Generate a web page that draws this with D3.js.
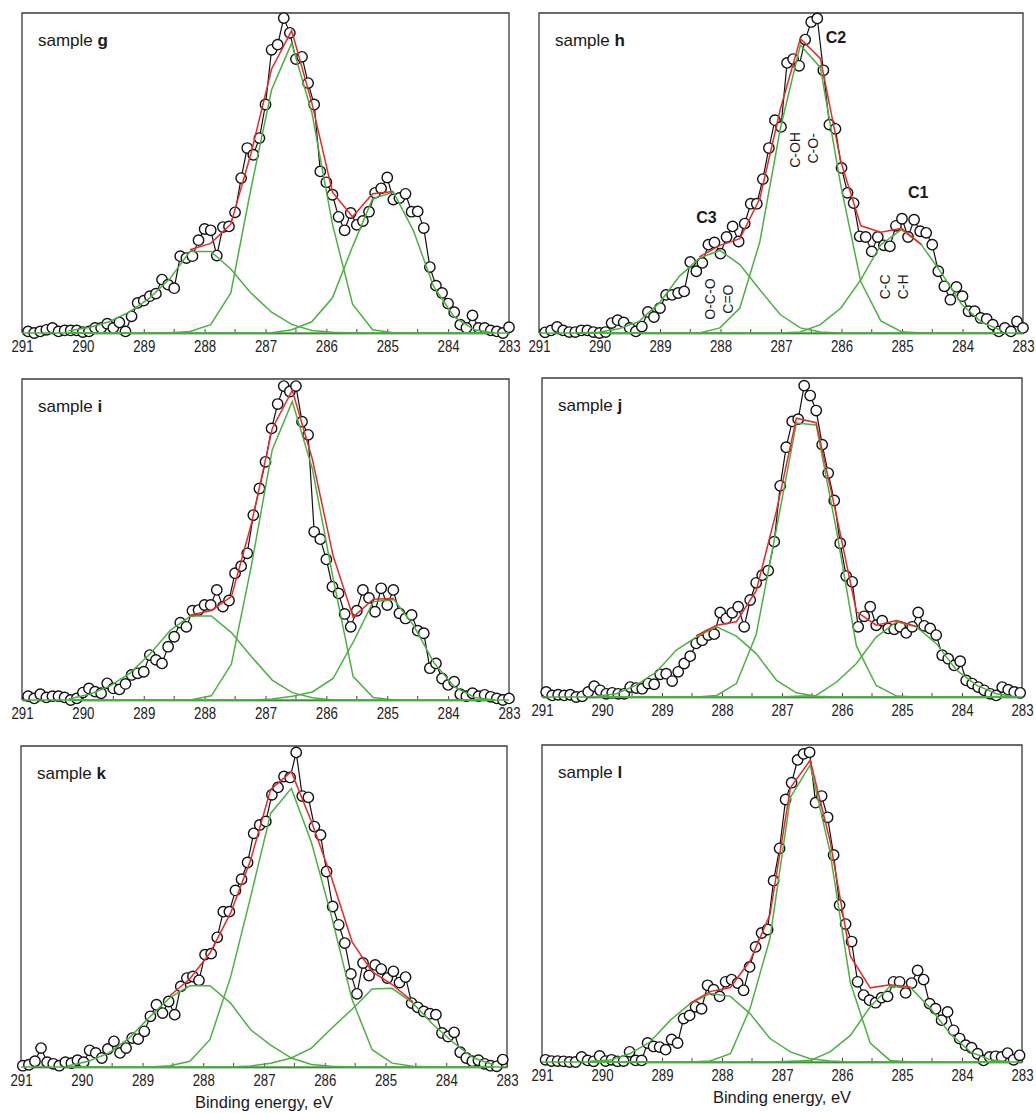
<!DOCTYPE html>
<html>
<head>
<meta charset="utf-8">
<script src="https://cdn.jsdelivr.net/npm/d3@7"></script>
<style>
    body { margin: 0; background: #fff; }
    text { font-family: "Liberation Sans", Arial, sans-serif; }
</style>
</head>
<body>
<div id="vis"></div>
<script>
const l = console.log

// ---- data (intensity in % of panel height) ----
const sampleNames = ["g", "h", "i", "j", "k", "l"];
const tickValues = [291, 290, 289, 288, 287, 286, 285, 284, 283];
const minorTicks = [290.5, 289.5, 288.5, 287.5, 286.5, 285.5, 284.5, 283.5];

// first binding energy of each scan, eV; scan step 0.1 eV
const scanStart = [290.9, 290.9, 290.9, 290.93, 290.97, 290.94];
const scanStep = 0.1;

const gScan = [0.5, 0, 0.5, 1, 1.6, 0.5, 0.8, 0.8, 0.8, 0.3,
    0.5, 1.6, 1.6, 2.9, 1.6, 3.3, 0.5, 5.2, 9.4, 10.1,
    11.5, 12.3, 16.7, 15.1, 14.0, 24.0, 23.4, 24.0, 29.0, 32.5,
    32.1, 24.2, 33.1, 33.3, 37.7, 48.4, 57.8, 55.7, 60.9, 71.4,
    88.5, 90.1, 98.4, 93.8, 85.6, 86.3, 78.1, 71.4, 50.5, 47.1,
    43.2, 36.3, 32.1, 37.5, 33.8, 35.0, 37.9, 43.8, 45.2, 48.6,
    41.7, 42.2, 43.5, 37.9, 38.0, 32.8, 20.6, 14.8, 12.5, 9.2,
    6.5, 2.6, 1.6, 5.5, 1.6, 1.6, 0.8, 0.5, 0, 1.8];
const hScan = [0.2, 0.8, 1.9, 0.8, 0.3, 0.3, 0.8, 0.8, 0.3, 0,
    0.3, 3.1, 4.0, 3.3, 1.6, 0.5, 2, 6.6, 5, 7.8,
    11.9, 11.9, 12.5, 13, 22.2, 19.3, 21.9, 27.6, 28.3, 24.8,
    30, 33.3, 28.6, 34.2, 40.4, 40.4, 48.1, 57.8, 66.5, 64.4,
    84.4, 85.6, 83.5, 91.7, 97.2, 98.3, 82.1, 65.1, 63.8, 51.6,
    43.8, 40.6, 30.2, 30, 25.5, 30, 27.4, 27.1, 33.5, 35.7,
    30, 35.4, 31.8, 31.3, 27.6, 19.3, 14.6, 10.4, 14.4, 11.5,
    6.8, 6.8, 4.7, 4.4, 2.6, 0.5, 1.6, 0.5, 3.6, 1.6];
const iScan = [1.2, 0.5, 1.8, 0.8, 1.2, 1.2, 0.8, 0, 0.5, 2.3,
    3.6, 2.6, 2.1, 5.2, 3.6, 3.3, 5, 7.8, 8.3, 8.8,
    14, 12.5, 11.4, 16.6, 19.7, 24.1, 22.8, 27.8, 28, 29.6,
    29.6, 34.3, 29.1, 31, 39.5, 41.7, 45.7, 57.6, 65.9, 74.2,
    84.6, 92.2, 97.8, 96.1, 97.8, 86.7, 82.6, 52.4, 50.1, 43.8,
    35.3, 33.2, 26.8, 22.8, 27.8, 34.3, 31.8, 27.5, 34.8, 29.6,
    34.3, 27, 25.4, 26.5, 21.6, 20.8, 9.9, 11.4, 6.7, 4.7,
    5.7, 1.8, 1.2, 2.1, 1.2, 1.6, 1, 0.5, 0, 0.5];
const jScan = [1.6, 0.5, 0.7, 0.5, 0.7, 0, 0.2, 1.6, 3.4, 2.1,
    1, 1.3, 1, 1, 3.1, 2.8, 2.6, 4.2, 4, 7.1,
    7.3, 5, 7.9, 10.5, 12.8, 16.8, 17.8, 19.4, 19.7, 26.5,
    24.6, 26.4, 28.3, 22, 30.4, 35.8, 38.2, 39.6, 48.7, 66.2,
    78.3, 86.4, 87.1, 97.6, 94.5, 89.8, 79.1, 70.2, 61.6, 48.2,
    37.9, 36.1, 22, 25.3, 28.3, 22.5, 23.9, 21.5, 21.2, 22,
    20.1, 22, 26.5, 22.3, 21.5, 19.4, 13.1, 12, 9.9, 11.2,
    5.2, 4.2, 3.1, 2.1, 1, 0.5, 3.1, 2.3, 1.6, 1.3];
const kScan = [0.4, 0.7, 1.8, 5.9, 1.5, 1, 0.4, 1.5, 1.2, 2.1,
    1.5, 5.2, 4.4, 2.8, 5.6, 8, 4.4, 5.9, 9, 8.7,
    11.1, 15.8, 19.4, 16.8, 20.4, 16.3, 25.1, 27.7, 28.2, 27,
    35, 35.3, 40.4, 48.4, 48.4, 55, 58.5, 63.7, 72.8, 75.4,
    76.5, 84.8, 87.1, 90.5, 90.2, 98, 84.4, 84, 74.9, 72.3,
    60.9, 50, 44.3, 38.6, 29, 22.8, 32.4, 28.5, 31.8, 30.5,
    27.7, 29.8, 26.3, 28, 19.9, 18.6, 17.3, 16.6, 16.3, 10.6,
    9.5, 10.8, 4.6, 2.8, 1.8, 2.1, 1, 0.4, 0.2, 2.3];
const lScan = [0.7, 0.3, 0.3, 0.2, 0, 0, 1.6, 0.5, 0.2, 1.9,
    0.3, 0.7, 0.2, 0.3, 3.2, 0.5, 0.5, 6, 4.9, 4.7,
    3.9, 7.1, 6, 13.7, 14.7, 17.4, 16.8, 24.2, 22.8, 20.7,
    25.3, 26, 24.9, 22.6, 30, 36.3, 40.7, 41.8, 57.2, 67.4,
    82.8, 88.1, 95.3, 97.2, 97.7, 81.8, 83.9, 77.2, 65.3, 49.5,
    43.5, 38, 25.3, 21.1, 19.5, 18.7, 20.3, 20.7, 25.3, 25.3,
    21.8, 24.9, 28.9, 26, 18.4, 16.8, 13.2, 15.8, 10, 7.4,
    5.3, 4.5, 2.6, 0.5, 1.6, 1.8, 1.6, 2.8, 0.7, 2.1];

// fitted curves: energies of the fit points and C3 / C2 / C1 components + envelope
const gGrid = [290.24, 289.9, 289.57, 289.24, 288.9, 288.57, 288.24, 287.9, 287.57, 287.24, 286.9,
    286.57, 286.24, 285.9, 285.57, 285.24, 284.9, 284.57, 284.24, 283.9, 283.57, 283.24];
const gC3 = [0.7, 1.7, 3.5, 6.5, 11, 17, 25.5, 25.5, 20, 12.5, 6.5, 2.7, 0.8, 0.2, 0, 0, 0, 0, 0, 0, 0, 0];
const gC2 = [0, 0, 0, 0, 0, 0.1, 0.5, 2.6, 12.5, 45, 76, 90.6, 69, 34, 9, 1, 0.1, 0, 0, 0, 0, 0];
const gC1 = [0, 0, 0, 0, 0, 0, 0, 0, 0, 0, 0.1, 1, 3.5, 11, 27, 42, 44, 32, 14.6, 5, 1, 0];
const gFit = [null, null, null, null, null, null, 26, 28, 34, 56, 82.5, 94.5, 72, 44, 36.3, 43.5, 44.2,
    null, null, null, null, null];

const hGrid = [290.35, 290.01, 289.68, 289.35, 289.01, 288.68, 288.35, 288.01, 287.68, 287.35, 287.01,
    286.68, 286.35, 286.01, 285.68, 285.35, 285.01, 284.68, 284.35, 284.01, 283.68, 283.35];
const hC3 = [0, 0.2, 1.3, 3.6, 9.4, 17.7, 23.4, 25.8, 21.4, 13.5, 5.7, 1.6, 0.3, 0, 0, 0, 0, 0, 0, 0, 0, 0];
const hC2 = [0, 0, 0, 0, 0, 0, 0, 1.6, 7.8, 28.5, 64, 90, 83, 46, 16, 3.8, 0.4, 0, 0, 0, 0, 0];
const hC1 = [0, 0, 0, 0, 0, 0, 0, 0, 0, 0, 0, 0.3, 2.6, 7.8, 16.7, 27.6, 32.3, 27.6, 18.8, 8.9, 3.3, 0.8];
const hFit = [null, null, null, null, null, null, 23.8, 27.4, 29.5, 42, 70, 92, 85.8, 53.5, 33.5, 31.5, 32.7, 27.7,
    null, null, null, null];

const iGrid = [290.23, 289.89, 289.56, 289.23, 288.89, 288.56, 288.23, 287.89, 287.56, 287.23, 286.89,
    286.56, 286.23, 285.89, 285.56, 285.23, 284.89, 284.56, 284.23, 283.89, 283.56, 283.23];
const iC3 = [0.3, 1.8, 4.3, 8.3, 14.5, 21.8, 26.2, 26.2, 21, 13.5, 6.2, 2.3, 0.7, 0, 0, 0, 0, 0, 0, 0, 0, 0];
const iC2 = [0, 0, 0, 0, 0, 0, 0, 1.3, 11.2, 42, 77.9, 93, 72, 38, 7.3, 0.8, 0, 0, 0, 0, 0, 0];
const iC1 = [0, 0, 0, 0, 0, 0, 0, 0, 0, 0, 0.3, 1.2, 2.5, 6.7, 18, 30.6, 31.3, 23, 11.5, 4, 0.8, 0];
const iFit = [null, null, null, null, null, null, 26.5, 27.9, 32.2, 55, 84.5, 96.5, 75, 45, 25.8, 31.4, 31.6,
    null, null, null, null, null];

const jGrid = [290.09, 289.76, 289.43, 289.09, 288.76, 288.43, 288.09, 287.76, 287.43, 287.09, 286.76,
    286.43, 286.09, 285.76, 285.43, 285.09, 284.76, 284.43, 284.09, 283.76, 283.43, 283.09];
const jC3 = [0.2, 1, 3.7, 7.9, 14.7, 18.8, 22, 19.1, 13.6, 5.2, 1.3, 0.2, 0, 0, 0, 0, 0, 0, 0, 0, 0, 0];
const jC2 = [0, 0, 0, 0, 0, 0, 0.5, 4.2, 19.6, 53, 85.9, 85.3, 52, 16, 3.6, 0.3, 0, 0, 0, 0, 0, 0];
const jC1 = [0, 0, 0, 0, 0, 0, 0, 0, 0, 0, 0.2, 0.5, 4.7, 10.5, 18.8, 23.6, 22, 16.8, 8.4, 3.7, 1, 0];
const jFit = [null, null, null, null, null, 19.2, 22.5, 23.6, 33.3, 58.5, 87.4, 86, 56.7, 26.8, 22.5, 24, 22.1,
    null, null, null, null, null];

const kGrid = [290.22, 289.89, 289.55, 289.22, 288.89, 288.55, 288.22, 287.89, 287.55, 287.22, 286.89,
    286.55, 286.22, 285.89, 285.55, 285.22, 284.89, 284.55, 284.22, 283.89, 283.55, 283.22];
const kC3 = [0.4, 1.8, 4.4, 9, 15.4, 21.6, 25.3, 25.3, 19.9, 11.6, 6.8, 2.8, 0.8, 0.2, 0, 0, 0, 0, 0, 0, 0, 0];
const kC2 = [0, 0, 0, 0, 0, 0.4, 1.8, 8.5, 28, 53, 79, 86.8, 70, 47, 21, 5.4, 1.2, 0.2, 0, 0, 0, 0];
const kC1 = [0, 0, 0, 0, 0, 0, 0, 0, 0, 0.3, 1.2, 2.8, 5.9, 12, 18, 24.3, 24.5, 19.9, 13.3, 7.7, 2.8, 0.7];
const kFit = [null, null, null, null, null, 22.2, 27.5, 35.5, 48, 64.5, 86.5, 92, 76.5, 59, 39, 29.7, 25.7, 20.3,
    null, null, null, null];

const lGrid = [290.2, 289.86, 289.53, 289.2, 288.86, 288.53, 288.2, 287.86, 287.53, 287.2, 286.86,
    286.53, 286.2, 285.86, 285.53, 285.2, 284.86, 284.53, 284.2, 283.86, 283.53, 283.2];
const lC3 = [0.2, 0.6, 2.7, 6.3, 13.2, 18.4, 21.6, 20.7, 15.2, 7.4, 3.2, 1, 0.3, 0, 0, 0, 0, 0, 0, 0, 0, 0];
const lC2 = [0, 0, 0, 0, 0, 0, 0.3, 2.6, 17, 39, 83.5, 93.7, 66.3, 25, 6, 0.5, 0, 0, 0, 0, 0, 0];
const lC1 = [0, 0, 0, 0, 0, 0, 0, 0, 0, 0, 0.2, 0.5, 3.2, 8.4, 17.4, 23.9, 23.5, 17, 9, 3.2, 0.7, 0];
const lFit = [null, null, null, null, null, 18.6, 22.2, 23.5, 32, 46.5, 86.5, 95.2, 69.8, 33.4, 23.4, 24.4, 23.7,
    null, null, null, null, null];

// peak labels of sample h: [text, energy, intensity]
const peakLabels = [["C2", 286.26, 90.6], ["C1", 284.9, 42.2], ["C3", 288.4, 34.4]];
const bondLabels = [["C-OH", 286.69, 57.2], ["C-O-", 286.39, 57.7], ["O-C-O", 288.09, 10.6],
    ["C=O", 287.79, 10.6], ["C-C", 285.2, 14.4], ["C-H", 284.9, 14.4]];

// ---- layout ----
const boxes = [
    { x: 22, y: 13, w: 487, h: 320 },
    { x: 539, y: 13, w: 484, h: 320 },
    { x: 22, y: 379, w: 487, h: 321 },
    { x: 542, y: 378, w: 480, h: 319 },
    { x: 21, y: 746, w: 486, h: 321 },
    { x: 542, y: 745, w: 480, h: 317 }
];
const RED = "#e8292b";
const GREEN = "#4cb041";

const panels = [
    { scan: gScan, grid: gGrid, comps: [gC3, gC2, gC1], fit: gFit },
    { scan: hScan, grid: hGrid, comps: [hC3, hC2, hC1], fit: hFit },
    { scan: iScan, grid: iGrid, comps: [iC3, iC2, iC1], fit: iFit },
    { scan: jScan, grid: jGrid, comps: [jC3, jC2, jC1], fit: jFit },
    { scan: kScan, grid: kGrid, comps: [kC3, kC2, kC1], fit: kFit },
    { scan: lScan, grid: lGrid, comps: [lC3, lC2, lC1], fit: lFit }
];

const svg = d3.select("#vis").append("svg")
    .attr("width", 1036)
    .attr("height", 1113);

panels.forEach((p, k) => {
    const b = boxes[k];
    const g = svg.append("g").attr("transform", `translate(${b.x},${b.y})`);

    const x = d3.scaleLinear().domain([291, 283]).range([0, b.w]);
    const y = d3.scaleLinear().domain([0, 100]).range([b.h, 0]);

    // frame (left, top, right)
    g.append("path")
        .attr("d", `M0,${b.h}V0H${b.w}V${b.h}`)
        .attr("fill", "none")
        .attr("stroke", "#3a3a3a")
        .attr("stroke-width", 1.3);

    const ax = g.append("g")
        .attr("transform", `translate(0,${b.h})`)
        .call(d3.axisBottom(x).tickValues(tickValues).tickSize(-4).tickSizeOuter(0)
            .tickPadding(7).tickFormat(d3.format("d")));
    ax.select(".domain").attr("stroke", "#222").attr("stroke-width", 1.3);
    ax.selectAll(".tick line").attr("stroke", "#444");
    ax.selectAll(".tick text")
        .attr("font-size", 17)
        .attr("font-family", "Liberation Sans, Arial, sans-serif")
        .attr("fill", "#222")
        .attr("transform", "scale(0.78,1)");

    g.selectAll(".minor")
        .data(minorTicks)
        .join("line")
        .attr("class", "minor")
        .attr("x1", d => x(d)).attr("x2", d => x(d))
        .attr("y1", b.h).attr("y2", b.h - 4)
        .attr("stroke", "#444");

    // measured points
    const pts = p.scan.map((v, i) => [scanStart[k] - i * scanStep, v]);
    const line = d3.line().x(d => x(d[0])).y(d => y(d[1]));

    g.append("path")
        .attr("d", line(pts))
        .attr("fill", "none")
        .attr("stroke", "#111")
        .attr("stroke-width", 1.2);

    g.selectAll("circle")
        .data(pts)
        .join("circle")
        .attr("cx", d => x(d[0]))
        .attr("cy", d => y(d[1]))
        .attr("r", 5.2)
        .attr("fill", "#fff")
        .attr("stroke", "#111")
        .attr("stroke-width", 1.4);

    // green baseline + components
    g.append("line")
        .attr("x1", x(291)).attr("x2", x(283))
        .attr("y1", y(0)).attr("y2", y(0))
        .attr("stroke", GREEN)
        .attr("stroke-width", 1.6);

    p.comps.forEach(c => {
        g.append("path")
            .attr("d", line(c.map((v, i) => [p.grid[i], v])))
            .attr("fill", "none")
            .attr("stroke", GREEN)
            .attr("stroke-width", 1.5);
    });

    // envelope
    g.append("path")
        .attr("d", line.defined(d => d[1] != null)(p.fit.map((v, i) => [p.grid[i], v])))
        .attr("fill", "none")
        .attr("stroke", RED)
        .attr("stroke-width", 1.5);

    // label
    const t = g.append("text")
        .attr("x", 16)
        .attr("y", 33)
        .attr("font-size", 17)
        .attr("fill", "#1a1a1a");
    t.append("tspan").text("sample ");
    t.append("tspan").attr("font-weight", "bold").text(sampleNames[k]);

    if (k === 1) {
        g.selectAll(".peak")
            .data(peakLabels)
            .join("text")
            .attr("class", "peak")
            .attr("x", d => x(d[1]))
            .attr("y", d => y(d[2]))
            .attr("font-size", 16)
            .attr("font-weight", "bold")
            .attr("fill", "#1a1a1a")
            .text(d => d[0]);

        g.selectAll(".bond")
            .data(bondLabels)
            .join("text")
            .attr("class", "bond")
            .attr("transform", d => `translate(${x(d[1])},${y(d[2])}) rotate(-90)`)
            .attr("text-anchor", "middle")
            .attr("font-size", 14)
            .attr("fill", "#1a1a1a")
            .text(d => d[0]);
    }

    if (k >= 4) {
        g.append("text")
            .attr("x", b.w / 2)
            .attr("y", b.h + 41)
            .attr("text-anchor", "middle")
            .attr("font-size", 16.5)
            .attr("fill", "#1a1a1a")
            .text("Binding energy, eV");
    }
});
</script>
</body>
</html>
